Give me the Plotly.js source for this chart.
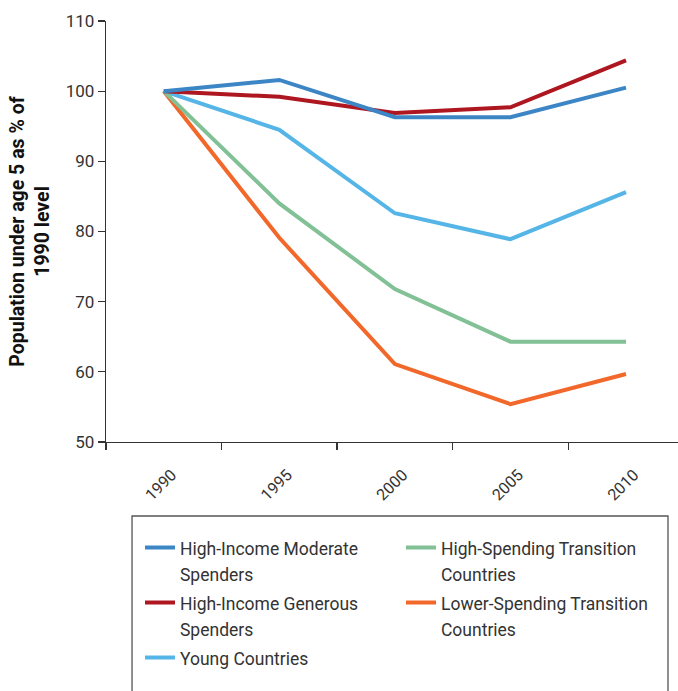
<!DOCTYPE html>
<html>
<head>
<meta charset="utf-8">
<script src="https://cdn.plot.ly/plotly-3.0.1.min.js"></script>
<style>html,body{margin:0;padding:0;background:#fff;}#chart{width:678px;height:691px;}</style>
</head>
<body>
<div id="chart"></div>
<script>
var years = ["1990", "1995", "2000", "2005", "2010"];
var seriesNames = [
  "High-Income Moderate<br>Spenders",
  "High-Spending Transition<br>Countries",
  "High-Income Generous<br>Spenders",
  "Lower-Spending Transition<br>Countries",
  "Young Countries"
];
var moderate = [100, 101.6, 96.3, 96.3, 100.5];
var highSpending = [100, 84.0, 71.8, 64.3, 64.3];
var generous = [100, 99.2, 96.9, 97.7, 104.4];
var lowerSpending = [100, 79.1, 61.1, 55.4, 59.7];
var young = [100, 94.5, 82.6, 78.9, 85.6];
var colors = ["#3D86C6", "#82C096", "#AE1620", "#F2682A", "#55B5E7"];
var drawOrder = [4, 3, 1, 2, 0];
var values = [moderate, highSpending, generous, lowerSpending, young];

var font = "Roboto, 'Liberation Sans', sans-serif";
function legendLabel(name) {
  return name.split("<br>").map(function (s) {
    return '<span style="font-size:17.5px">' + s + '</span>';
  }).join("<br>");
}
var traces = drawOrder.map(function (i) {
  return {
    x: years, y: values[i], name: legendLabel(seriesNames[i]), type: "scatter", mode: "lines",
    line: {color: colors[i], width: 4}, legendrank: i + 1
  };
});

var layout = {
  width: 678, height: 691,
  margin: {l: 106, r: 0, t: 21, b: 249},
  paper_bgcolor: "#fff", plot_bgcolor: "#fff",
  font: {family: font, size: 18, color: "#333"},
  showlegend: true,
  xaxis: {
    type: "category", range: [-0.5, 4.45], tickson: "boundaries",
    ticks: "outside", ticklen: 7, tickcolor: "#333", tickwidth: 1.3,
    showline: true, linecolor: "#333", linewidth: 1.3, showgrid: false, zeroline: false,
    tickangle: -45, ticklabelstandoff: 16, ticklabelshift: 8,
    tickfont: {family: font, size: 16, color: "#333"}
  },
  yaxis: {
    range: [50, 110], dtick: 10, ticks: "outside", ticklen: 7, tickcolor: "#333", tickwidth: 1.3,
    showline: true, linecolor: "#333", linewidth: 1.3, showgrid: false, zeroline: false,
    tickfont: {family: font, size: 17, color: "#333"},
    title: {text: "<b>Population under age 5 as % of<br>1990 level</b>", font: {family: font, size: 19.5, color: "#111"}, standoff: 10}
  },
  legend: {
    orientation: "h", x: 0.0594, xanchor: "left", y: -0.2043, yanchor: "top",
    entrywidth: 216, borderwidth: 0, bgcolor: "rgba(0,0,0,0)",
    font: {family: font, size: 20, color: "#333"}, traceorder: "normal", valign: "top"
  },
  shapes: [{
    type: "rect", xref: "paper", yref: "paper",
    x0: 0.0455, x1: 0.9825, y0: -0.1758, y1: -0.75,
    line: {color: "#555", width: 1.3}, fillcolor: "rgba(0,0,0,0)", layer: "below"
  }]
};

Plotly.newPlot("chart", traces, layout, {displayModeBar: false, staticPlot: true});
</script>
</body>
</html>
